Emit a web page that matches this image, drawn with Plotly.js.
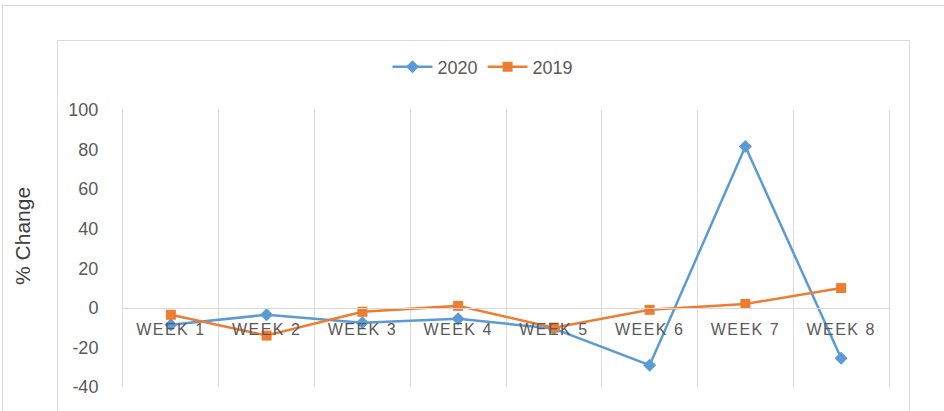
<!DOCTYPE html>
<html>
<head>
<meta charset="utf-8">
<script src="https://cdn.plot.ly/plotly-3.0.1.min.js"></script>
<style>
  html, body { margin: 0; padding: 0; background: #ffffff; }
  #wrap { position: relative; width: 944px; height: 411px; overflow: hidden; }
  #chart { position: absolute; left: 0; top: 0; width: 944px; height: 411px; }
  .frame { position: absolute; border: 1px solid #d9d9d9; pointer-events: none; box-sizing: border-box; }
  .xtick text { letter-spacing: 1.5px; }
</style>
</head>
<body>
<div id="wrap">
  <div id="chart"></div>
  <div class="frame" style="left:2px; top:5px; width:960px; height:420px;"></div>
  <div class="frame" style="left:57px; top:40px; width:853px; height:380px;"></div>
</div>
<script>
const categories = ['WEEK 1', 'WEEK 2', 'WEEK 3', 'WEEK 4', 'WEEK 5', 'WEEK 6', 'WEEK 7', 'WEEK 8'];
const values2020 = [-8.5, -3.5, -7.5, -5.5, -10.5, -29, 81.5, -25.5];
const values2019 = [-3.5, -14, -2, 1, -10, -1, 2, 10];
const seriesNames = ['2020', '2019'];
const yTickValues = [-40, -20, 0, 20, 40, 60, 80, 100];
const yTickLabels = ['-40', '-20', '0', '20', '40', '60', '80', '100'];
const yTitle = '% Change';

const traces = [
  {
    x: categories, y: values2020, name: seriesNames[0], type: 'scatter', mode: 'lines+markers',
    line: { color: '#5B9BD5', width: 2.5 },
    marker: { symbol: 'diamond', size: 10, color: '#5B9BD5' }
  },
  {
    x: categories, y: values2019, name: seriesNames[1], type: 'scatter', mode: 'lines+markers',
    line: { color: '#ED7D31', width: 2.5 },
    marker: { symbol: 'square', size: 10, color: '#ED7D31' }
  },
  { x: [], y: [], yaxis: 'y2', showlegend: false, hoverinfo: 'skip', type: 'scatter' }
];

const yMin = -40, yMax = 100;

const layout = {
  width: 944, height: 411,
  margin: { l: 123, r: 55, t: 110, b: 24, pad: 0 },
  paper_bgcolor: 'rgba(0,0,0,0)',
  plot_bgcolor: 'rgba(0,0,0,0)',
  font: { family: 'Liberation Sans, Arial, sans-serif', color: '#595959' },
  showlegend: true,
  legend: {
    orientation: 'h', x: 0.47, xanchor: 'center', y: 1.155, yanchor: 'middle',
    font: { size: 18, color: '#595959' }, itemwidth: 40, traceorder: 'normal'
  },
  xaxis: {
    type: 'category', anchor: 'free', position: (0 - yMin) / (yMax - yMin),
    tickson: 'boundaries', showgrid: true, gridcolor: '#d9d9d9', gridwidth: 1,
    showline: true, linecolor: '#d9d9d9', linewidth: 1,
    ticks: '', ticklabelstandoff: 7,
    tickfont: { size: 16, color: '#595959', family: 'Liberation Sans, Arial, sans-serif' },
    range: [-0.5, 7.5], fixedrange: true
  },
  yaxis: {
    range: [yMin, yMax], tickvals: yTickValues, ticktext: yTickLabels, ticks: '',
    showgrid: false, zeroline: false, showline: true, linecolor: '#d9d9d9', linewidth: 1,
    tickfont: { size: 18, color: '#595959' },
    ticklabelstandoff: 20
  },
  yaxis2: {
    range: [yMin, yMax], overlaying: 'y', side: 'right', anchor: 'x',
    showline: true, linecolor: '#d9d9d9', linewidth: 1,
    showgrid: false, zeroline: false, showticklabels: false, ticks: ''
  },
  annotations: [{
    text: yTitle, textangle: -90, xref: 'paper', yref: 'paper',
    x: -0.132, y: 0.545, xanchor: 'center', yanchor: 'middle', showarrow: false,
    font: { size: 21, color: '#404040' }
  }]
};

Plotly.newPlot('chart', traces, layout, { staticPlot: true, displayModeBar: false });
</script>
</body>
</html>
